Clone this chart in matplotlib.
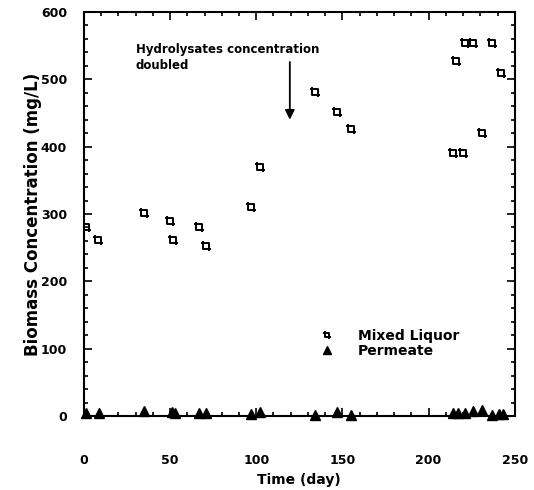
import numpy as np
import matplotlib
matplotlib.use("Agg")
import matplotlib.pyplot as plt
from matplotlib.path import Path

# Mixed liquor biomass (day, mg/L)
ml_day = [1, 8, 35, 50, 52, 67, 71, 97, 102, 134, 147, 155,
          214, 216, 220, 221, 226, 231, 237, 242]
ml_conc = [280, 261, 301, 290, 262, 281, 252, 311, 370, 481, 452, 426,
           391, 527, 391, 554, 554, 420, 554, 510]

# Permeate biomass (day, mg/L)
pm_day = [1, 9, 35, 51, 53, 67, 71, 97, 102, 134, 147, 155,
          214, 217, 221, 226, 231, 237, 241, 243]
pm_conc = [5, 5, 7, 6, 4, 5, 5, 3, 6, 2, 6, 2,
           4, 5, 5, 7, 9, 2, 3, 3]

# square marker with little spurs, like the scanned symbol
verts = [(-1, -1), (1, -1), (1, 1), (-1, 1), (-1, -1),
         (-1, 1), (-1.6, 1),
         (1, -1), (1.6, -1),
         (-1, 1), (-1, 1.5),
         (1, -1), (1, -1.5)]
codes = [Path.MOVETO, Path.LINETO, Path.LINETO, Path.LINETO, Path.CLOSEPOLY,
         Path.MOVETO, Path.LINETO,
         Path.MOVETO, Path.LINETO,
         Path.MOVETO, Path.LINETO,
         Path.MOVETO, Path.LINETO]
sq_marker = Path(verts, codes)

plt.rcParams['font.family'] = ['DejaVu Sans']
plt.rcParams['font.weight'] = 'bold'

fig = plt.figure(figsize=(5.34, 4.9), dpi=100)
ax = fig.add_axes([0.157, 0.151, 0.807, 0.8245])

ax.plot(ml_day, ml_conc, linestyle='none', marker=sq_marker, markersize=7,
        markerfacecolor='none', markeredgecolor='black', markeredgewidth=1.4,
        label='Mixed Liquor')
ax.plot(pm_day, pm_conc, linestyle='none', marker='^', markersize=6.5,
        color='black', label='Permeate', clip_on=False, zorder=5)

ax.set_xlim(0, 250)
ax.set_ylim(0, 600)
ax.set_xticks(np.arange(0, 251, 50))
ax.set_xticks(np.arange(0, 251, 10), minor=True)
ax.set_yticks(np.arange(0, 601, 100))
ax.set_yticks(np.arange(0, 601, 20), minor=True)
ax.tick_params(which='both', direction='in', top=True, right=True,
               labelsize=9, width=1.2)
ax.tick_params(which='major', length=6)
ax.tick_params(which='minor', length=3)
ax.tick_params(axis='x', which='major', pad=27)
ax.tick_params(axis='y', which='major', pad=12)
for lab in ax.get_xticklabels() + ax.get_yticklabels():
    lab.set_fontweight('bold')
for sp in ax.spines.values():
    sp.set_linewidth(1.5)

ax.set_xlabel('Time (day)', fontsize=10, fontweight='bold', labelpad=5)
ax.set_ylabel('Biomass Concentration (mg/L)', fontsize=12, fontweight='bold',
              labelpad=-1)

ax.text(30, 532, 'Hydrolysates concentration\ndoubled', fontsize=8.5,
        fontweight='bold', va='center', ha='left', linespacing=1.3)
ax.annotate('', xy=(119.5, 436), xytext=(119.5, 530),
            arrowprops=dict(arrowstyle='-|>', color='black', lw=1.3,
                            mutation_scale=14))

leg = ax.legend(loc='upper left', bbox_to_anchor=(0.52, 0.23), frameon=False,
                fontsize=10, handletextpad=1.2, borderaxespad=0,
                labelspacing=0.1, markerscale=0.8)
for t in leg.get_texts():
    t.set_fontweight('bold')

fig.savefig('out.png', dpi=100)
